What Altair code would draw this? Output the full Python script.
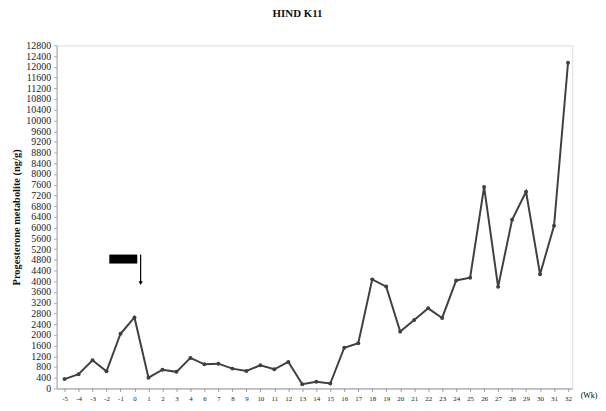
import json
import altair as alt
import pandas as pd

# Sampling weeks (week 5 is absent on the original axis)
weeks = [-5, -4, -3, -2, -1, 0, 1, 2, 3, 4, 6, 7, 8, 9, 10, 11, 12, 13, 14, 15, 16,
         17, 18, 19, 20, 21, 22, 23, 24, 25, 26, 27, 28, 29, 30, 31, 32]
# Progesterone metabolite (ng/g)
values = [350, 530, 1050, 640, 2040, 2650, 400, 700, 620, 1140, 900, 925, 740, 655,
          865, 715, 990, 160, 250, 185, 1520, 1690, 4070, 3800, 2120, 2550, 2990, 2630,
          4030, 4130, 7520, 3790, 6290, 7340, 4260, 6070, 12150]
y_ticks = list(range(0, 12801, 400))

# annotation (treatment bar + arrow) in data units (category index / ng/g)
bar_x = [3.2]
bar_x2 = [5.2]
bar_y = [4660]
bar_y2 = [4995]
arrow_x = [5.44]
arrow_top = [4995]
arrow_bottom = [3930]

df = pd.DataFrame({"idx": list(range(len(weeks))), "week": weeks, "value": values})
bar_df = pd.DataFrame({"x": bar_x, "x2": bar_x2, "y": bar_y, "y2": bar_y2})
arrow_df = pd.DataFrame({"x": arrow_x, "y": arrow_top, "y2": arrow_bottom})

FONT = "Liberation Serif"
label_expr = json.dumps([str(w) for w in weeks]) + "[datum.value]"

xscale = alt.Scale(domain=[-0.57, 36.3], nice=False, zero=False)
yscale = alt.Scale(domain=[0, 12800], nice=False)

x_axis = alt.Axis(
    values=list(range(len(weeks))), tickCount=100, labelExpr=label_expr, grid=False,
    labelOverlap=False, labelFlush=False,
    title="(Wk)", titleFont=FONT, titleFontSize=8, titleFontWeight="normal",
    titleX=528, titleY=7, titleAlign="left", titleBaseline="middle",
    labelFont=FONT, labelFontSize=7, labelColor="#222", labelPadding=3,
    tickSize=3, tickColor="#999", domainColor="#999", labelAngle=0,
)
y_axis = alt.Axis(
    values=y_ticks, tickCount=100, format="d", grid=False,
    labelOverlap=False, labelFlush=False,
    title="Progesterone metabolite (ng/g)", titleFont=FONT, titleFontSize=10.5,
    titleFontWeight="bold", titleColor="#111", titleX=-40, titleY=173,
    titleAngle=-90, titleAlign="center", titleBaseline="middle",
    labelFont=FONT, labelFontSize=10, labelColor="#222", labelPadding=3,
    tickSize=3, tickColor="#aaa", domainColor="#aaa",
)

line = alt.Chart(df).mark_line(color="#404040", strokeWidth=2).encode(
    x=alt.X("idx:Q", scale=xscale, axis=x_axis),
    y=alt.Y("value:Q", scale=yscale, axis=y_axis),
)
pts = alt.Chart(df).mark_point(filled=True, color="#404040", size=16, opacity=1).encode(
    x=alt.X("idx:Q", scale=xscale), y=alt.Y("value:Q", scale=yscale)
)
rect = alt.Chart(bar_df).mark_rect(color="black").encode(
    x=alt.X("x:Q", scale=xscale), x2="x2:Q",
    y=alt.Y("y:Q", scale=yscale), y2="y2:Q",
)
arrow_line = alt.Chart(arrow_df).mark_rule(color="black", strokeWidth=1.2).encode(
    x=alt.X("x:Q", scale=xscale), y=alt.Y("y:Q", scale=yscale), y2="y2:Q"
)
arrow_head = alt.Chart(arrow_df).mark_point(
    shape="triangle-down", filled=True, color="black", size=18, opacity=1
).encode(x=alt.X("x:Q", scale=xscale), y=alt.Y("y2:Q", scale=yscale))

chart = alt.layer(line, pts, rect, arrow_line, arrow_head).properties(
    width=520, height=346,
    title=alt.TitleParams("HIND K11", font=FONT, fontSize=11, fontWeight="bold",
                          color="#111", anchor="middle", dx=-17, offset=22),
    autosize=alt.AutoSizeParams(type="none"),
    padding={"left": 49, "top": 36, "right": 26, "bottom": 14},
).configure_view(stroke=None).configure(background="white")

chart.save("out.html", embed_options={"renderer": "svg", "actions": False})
